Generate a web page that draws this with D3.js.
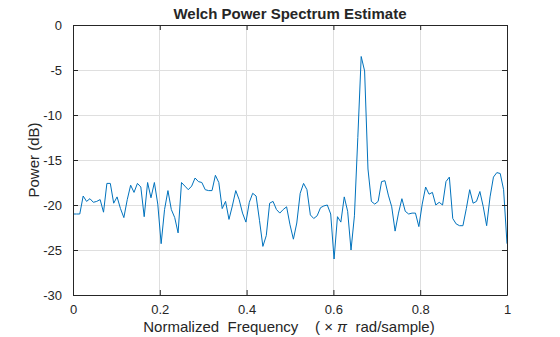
<!DOCTYPE html>
<html>
<head>
<meta charset="utf-8">
<script src="https://cdn.jsdelivr.net/npm/d3@7"></script>
<style>
  html, body { margin: 0; padding: 0; background: #fff; }
  svg { display: block; }
  text { font-family: "Liberation Sans", Arial, sans-serif; fill: #262626; }
</style>
</head>
<body>
<svg id="chart" width="560" height="337"></svg>
<script>
// ---- data ----
const powerDb = [
  -21.0, -21.0, -21.0, -19.0, -19.6, -19.3, -19.7, -19.6, -19.4, -20.8,
  -17.6, -17.6, -19.8, -19.1, -20.4, -21.4, -19.4, -17.8, -18.6, -17.6,
  -18.0, -21.3, -17.5, -19.2, -17.5, -19.9, -24.3, -20.5, -18.4, -20.5,
  -21.4, -23.1, -17.5, -17.9, -18.3, -17.9, -17.0, -17.4, -17.5, -18.3,
  -18.4, -18.4, -16.7, -17.5, -20.4, -19.6, -21.6, -20.1, -18.4, -19.4,
  -20.9, -21.9, -19.7, -18.7, -19.0, -21.7, -24.6, -23.4, -19.8, -19.6,
  -20.5, -20.9, -20.5, -20.2, -22.2, -23.8, -22.0, -18.7, -17.6, -18.3,
  -21.1, -21.5, -21.2, -20.3, -20.1, -20.0, -21.0, -26.0, -21.3, -21.9,
  -19.1, -20.7, -25.0, -21.2, -12.5, -3.5, -5.1, -16.0, -19.6, -19.9,
  -19.6, -17.4, -17.3, -18.9, -20.2, -22.9, -20.9, -19.3, -20.7, -21.0,
  -20.9, -20.9, -22.4, -19.9, -18.0, -18.8, -18.6, -20.0, -19.7, -20.0,
  -17.4, -16.9, -21.5, -22.1, -22.3, -22.3, -20.4, -18.3, -19.8, -19.6,
  -18.5, -20.2, -22.3, -19.1, -16.9, -16.4, -16.5, -18.3, -24.3
];
const nfftHalf = 128;           // frequency bins span 0..1 (x pi rad/sample)
const xTicks = [0, 0.2, 0.4, 0.6, 0.8, 1];
const yTicks = [0, -5, -10, -15, -20, -25, -30];
const titleText = "Welch Power Spectrum Estimate";
const yLabel = "Power (dB)";

// ---- layout ----
const svg = d3.select("#chart");
const L = 73, R = 507, T = 25, B = 295;
const x = d3.scaleLinear().domain([0, 1]).range([L, R]);
const y = d3.scaleLinear().domain([-30, 0]).range([B, T]);
const axisColor = "#262626";
const gridColor = "#dfdfdf";

// grid
const grid = svg.append("g");
grid.selectAll("line.gx").data(xTicks).join("line")
  .attr("x1", d => x(d)).attr("x2", d => x(d))
  .attr("y1", T).attr("y2", B)
  .attr("stroke", gridColor).attr("stroke-width", 1).attr("shape-rendering", "crispEdges");
grid.selectAll("line.gy").data(yTicks).join("line")
  .attr("x1", L).attr("x2", R)
  .attr("y1", d => y(d)).attr("y2", d => y(d))
  .attr("stroke", gridColor).attr("stroke-width", 1).attr("shape-rendering", "crispEdges");

// data line
const pts = powerDb.map((v, i) => [i / nfftHalf, v]);
svg.append("path")
  .datum(pts)
  .attr("fill", "none")
  .attr("stroke", "#0072BD")
  .attr("stroke-width", 1)
  .attr("stroke-linejoin", "round")
  .attr("d", d3.line().x(d => x(d[0])).y(d => y(d[1])));

// axes (ticks inward, box)
const tickLen = 5;
const fmtX = d => (d === 0 || d === 1) ? String(d) : d.toFixed(1);

const axB = svg.append("g").attr("transform", `translate(0,${B})`)
  .call(d3.axisBottom(x).tickValues(xTicks).tickSizeInner(-tickLen).tickSizeOuter(0).tickPadding(10).tickFormat(fmtX));
const axT = svg.append("g").attr("transform", `translate(0,${T})`)
  .call(d3.axisTop(x).tickValues(xTicks).tickSizeInner(-tickLen).tickSizeOuter(0).tickFormat(""));
const axL = svg.append("g").attr("transform", `translate(${L},0)`)
  .call(d3.axisLeft(y).tickValues(yTicks).tickSizeInner(-tickLen).tickSizeOuter(0).tickPadding(11).tickFormat(d => String(d)));
const axR = svg.append("g").attr("transform", `translate(${R},0)`)
  .call(d3.axisRight(y).tickValues(yTicks).tickSizeInner(-tickLen).tickSizeOuter(0).tickFormat(""));

[axB, axT, axL, axR].forEach(g => {
  g.selectAll("path.domain").attr("stroke", axisColor).attr("stroke-width", 1);
  g.selectAll(".tick line").attr("stroke", axisColor).attr("stroke-width", 1);
  g.selectAll("text").attr("fill", axisColor)
    .style("font-family", '"Liberation Sans", Arial, sans-serif')
    .style("font-size", "13px");
});
axB.selectAll("text").attr("dy", "0.71em");

// title
svg.append("text")
  .attr("x", 290).attr("y", 19)
  .attr("text-anchor", "middle")
  .style("font-size", "15px").style("font-weight", "bold")
  .attr("fill", "#262626")
  .text(titleText);

// x label
const xl = svg.append("text")
  .attr("x", 289).attr("y", 332)
  .attr("text-anchor", "middle")
  .style("font-size", "15px")
  .style("white-space", "pre")
  .attr("xml:space", "preserve");
xl.append("tspan").text("Normalized  Frequency    ( \u00d7 ");
xl.append("tspan").style("font-style", "italic").text("\u03c0");
xl.append("tspan").text("  rad/sample)");

// y label
svg.append("text")
  .attr("transform", `translate(39,${(T + B) / 2}) rotate(-90)`)
  .attr("text-anchor", "middle")
  .style("font-size", "15px")
  .text(yLabel);
</script>
</body>
</html>
